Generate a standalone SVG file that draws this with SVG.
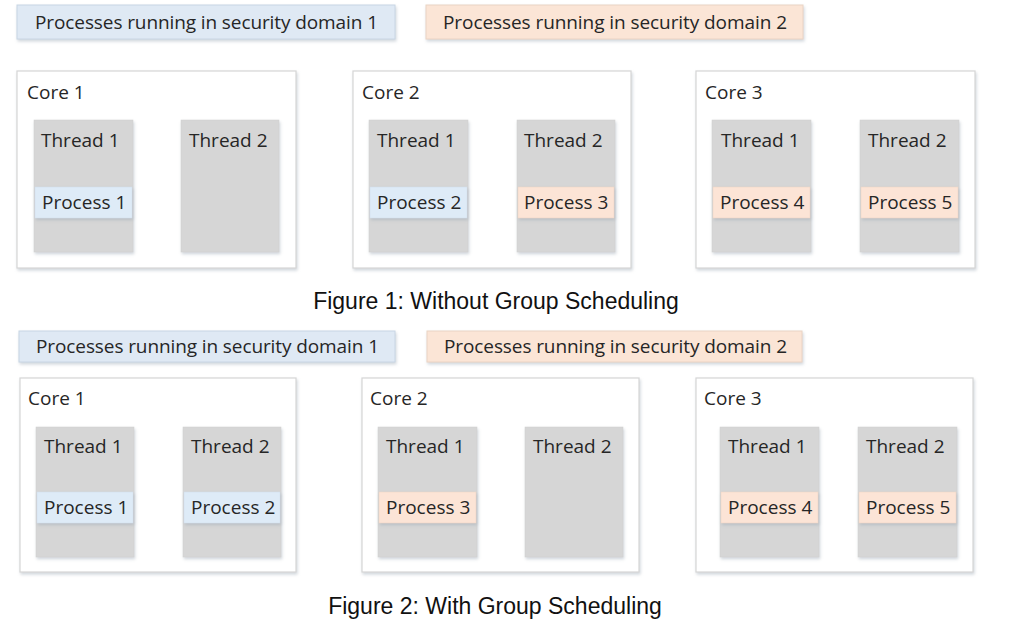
<svg xmlns="http://www.w3.org/2000/svg" width="1020" height="623" viewBox="0 0 1020 623">
<defs>
<filter id="sh" x="-10%" y="-10%" width="130%" height="130%">
<feDropShadow dx="1" dy="2" stdDeviation="1.5" flood-color="#9aa6b4" flood-opacity="0.45"/>
</filter>
<style>
.lg1{fill:#dfe9f4;stroke:#c8d5e4;stroke-width:1}
.lg2{fill:#fbe5d6;stroke:#ead3c4;stroke-width:1}
.core{fill:#ffffff;stroke:#d6d6d6;stroke-width:1.2}
.thr{fill:#d6d6d6;stroke:#cfcfcf;stroke-width:0.5}
.pb{fill:#deebf7;stroke:#d0dcea;stroke-width:0.5}
.po{fill:#fce4d6;stroke:#ecd2c2;stroke-width:0.5}
.t{font-family:"Open Sans","Noto Sans","DejaVu Sans",sans-serif;font-size:19px;fill:#262626}
.cap{font-family:"Liberation Sans",Arial,sans-serif;font-size:23px;fill:#111111}
</style>
</defs>
<rect width="1020" height="623" fill="#ffffff"/>

<!-- Figure 1 -->
<g id="legend1a"><rect class="lg1" x="17" y="5" width="378" height="34" filter="url(#sh)"/><text class="t" x="35" y="29" textLength="343">Processes running in security domain 1</text></g>
<g id="legend1b"><rect class="lg2" x="426" y="5" width="377" height="34" filter="url(#sh)"/><text class="t" x="443" y="29" textLength="344">Processes running in security domain 2</text></g>

<g id="f1core1"><rect class="core" x="17" y="71" width="279" height="197" filter="url(#sh)"/><text class="t" x="27" y="99">Core 1</text></g>
<g id="f1c1t1"><rect class="thr" x="34" y="120" width="99" height="132" filter="url(#sh)"/><text class="t" x="41" y="147">Thread 1</text></g>
<g id="f1c1p1"><rect class="pb" x="35" y="187" width="97" height="31" filter="url(#sh)"/><text class="t" x="42" y="209">Process 1</text></g>
<g id="f1c1t2"><rect class="thr" x="181" y="120" width="98" height="132" filter="url(#sh)"/><text class="t" x="189" y="147">Thread 2</text></g>

<g id="f1core2"><rect class="core" x="353" y="71" width="278" height="197" filter="url(#sh)"/><text class="t" x="362" y="99">Core 2</text></g>
<g id="f1c2t1"><rect class="thr" x="369" y="120" width="99" height="132" filter="url(#sh)"/><text class="t" x="377" y="147">Thread 1</text></g>
<g id="f1c2p2"><rect class="pb" x="370" y="187" width="97" height="31" filter="url(#sh)"/><text class="t" x="377" y="209">Process 2</text></g>
<g id="f1c2t2"><rect class="thr" x="517" y="120" width="98" height="132" filter="url(#sh)"/><text class="t" x="524" y="147">Thread 2</text></g>
<g id="f1c2p3"><rect class="po" x="518" y="187" width="96" height="31" filter="url(#sh)"/><text class="t" x="524" y="209">Process 3</text></g>

<g id="f1core3"><rect class="core" x="696" y="71" width="279" height="197" filter="url(#sh)"/><text class="t" x="705" y="99">Core 3</text></g>
<g id="f1c3t1"><rect class="thr" x="712" y="120" width="99" height="132" filter="url(#sh)"/><text class="t" x="721" y="147">Thread 1</text></g>
<g id="f1c3p4"><rect class="po" x="713" y="187" width="97" height="31" filter="url(#sh)"/><text class="t" x="720" y="209">Process 4</text></g>
<g id="f1c3t2"><rect class="thr" x="860" y="120" width="99" height="132" filter="url(#sh)"/><text class="t" x="868" y="147">Thread 2</text></g>
<g id="f1c3p5"><rect class="po" x="861" y="187" width="97" height="31" filter="url(#sh)"/><text class="t" x="868" y="209">Process 5</text></g>

<text class="cap" x="496" y="309" text-anchor="middle">Figure 1: Without Group Scheduling</text>

<!-- Figure 2 -->
<g id="legend2a"><rect class="lg1" x="19" y="331" width="376" height="31" filter="url(#sh)"/><text class="t" x="36" y="353" textLength="343">Processes running in security domain 1</text></g>
<g id="legend2b"><rect class="lg2" x="427" y="331" width="375" height="31" filter="url(#sh)"/><text class="t" x="444" y="353" textLength="343">Processes running in security domain 2</text></g>

<g id="f2core1"><rect class="core" x="20" y="378" width="276" height="194" filter="url(#sh)"/><text class="t" x="28" y="405">Core 1</text></g>
<g id="f2c1t1"><rect class="thr" x="36" y="427" width="98" height="130" filter="url(#sh)"/><text class="t" x="44" y="453">Thread 1</text></g>
<g id="f2c1p1"><rect class="pb" x="37" y="492" width="96" height="31" filter="url(#sh)"/><text class="t" x="44" y="514">Process 1</text></g>
<g id="f2c1t2"><rect class="thr" x="183" y="427" width="98" height="130" filter="url(#sh)"/><text class="t" x="191" y="453">Thread 2</text></g>
<g id="f2c1p2"><rect class="pb" x="184" y="492" width="96" height="31" filter="url(#sh)"/><text class="t" x="191" y="514">Process 2</text></g>

<g id="f2core2"><rect class="core" x="362" y="378" width="277" height="194" filter="url(#sh)"/><text class="t" x="370" y="405">Core 2</text></g>
<g id="f2c2t1"><rect class="thr" x="378" y="427" width="99" height="130" filter="url(#sh)"/><text class="t" x="386" y="453">Thread 1</text></g>
<g id="f2c2p3"><rect class="po" x="379" y="492" width="97" height="31" filter="url(#sh)"/><text class="t" x="386" y="514">Process 3</text></g>
<g id="f2c2t2"><rect class="thr" x="525" y="427" width="98" height="130" filter="url(#sh)"/><text class="t" x="533" y="453">Thread 2</text></g>

<g id="f2core3"><rect class="core" x="696" y="378" width="277" height="194" filter="url(#sh)"/><text class="t" x="704" y="405">Core 3</text></g>
<g id="f2c3t1"><rect class="thr" x="720" y="427" width="99" height="130" filter="url(#sh)"/><text class="t" x="728" y="453">Thread 1</text></g>
<g id="f2c3p4"><rect class="po" x="721" y="492" width="97" height="31" filter="url(#sh)"/><text class="t" x="728" y="514">Process 4</text></g>
<g id="f2c3t2"><rect class="thr" x="858" y="427" width="99" height="130" filter="url(#sh)"/><text class="t" x="866" y="453">Thread 2</text></g>
<g id="f2c3p5"><rect class="po" x="859" y="492" width="97" height="31" filter="url(#sh)"/><text class="t" x="866" y="514">Process 5</text></g>

<text class="cap" x="495" y="614" text-anchor="middle">Figure 2: With Group Scheduling</text>

<g id="connectors"></g>
</svg>
